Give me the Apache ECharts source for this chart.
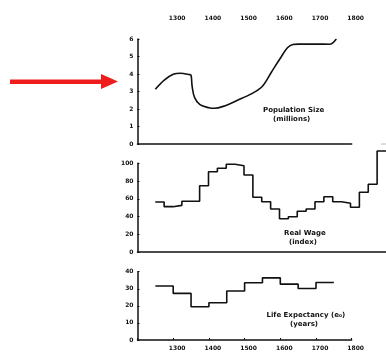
<!DOCTYPE html>
<html>
<head>
<meta charset="utf-8">
<script src="https://cdn.jsdelivr.net/npm/echarts@6/dist/echarts.min.js"></script>
<style>html,body{margin:0;padding:0;background:#fff;}#c{width:386px;height:358px;}</style>
</head>
<body>
<div id="c"></div>
<script>
// Population size (millions)
var popYears = [1250, 1275, 1300, 1320, 1345, 1350, 1353, 1360, 1375, 1400, 1415, 1440, 1480, 1520, 1550, 1575, 1600, 1620, 1635, 1650, 1700, 1738, 1757];
var popValues = [3.13, 3.65, 3.98, 4.04, 3.97, 3.93, 3.3, 2.65, 2.25, 2.07, 2.04, 2.15, 2.5, 2.88, 3.3, 4.1, 4.9, 5.5, 5.68, 5.71, 5.71, 5.7, 6.0];
// Real wage (index), 25-year periods by start year
var wageYears = [1250, 1275, 1300, 1325, 1350, 1375, 1400, 1425, 1450, 1475, 1500, 1525, 1550, 1575, 1600, 1625, 1650, 1675, 1700, 1725, 1750, 1775, 1800, 1825, 1850, 1875, 1900];
var wageValues = [56.4, 51.1, 52.6, 57.2, 57.2, 74.7, 90.5, 94.4, 98.9, 97.3, 86.8, 61.7, 56.7, 48.5, 37.5, 39.8, 45.9, 48.5, 56.7, 62.3, 56.7, 54.9, 50.4, 67.3, 76.3, 113.9, 113.9];
// Life expectancy (years), 50-year periods by start year
var lifeYears = [1250, 1300, 1350, 1400, 1450, 1500, 1550, 1600, 1650, 1700, 1750];
var lifeValues = [31.6, 27.3, 19.5, 21.8, 28.7, 33.5, 36.4, 32.7, 30.2, 33.7, 33.7];
// Axis tick labels
var yearTicks = ['1300', '1400', '1500', '1600', '1700', '1800'];
var popTicks = [0, 1, 2, 3, 4, 5, 6];
var wageTicks = [0, 20, 40, 60, 80, 100];
var lifeTicks = [0, 10, 20, 30, 40];

function pairs(xs, ys) { return xs.map(function (x, i) { return [x, ys[i]]; }); }

var FONT = 'DejaVu Sans';
var lblStyle = { fontFamily: FONT, fontSize: 6, fontWeight: 'bold', color: '#111' };
var axLine = { show: true, lineStyle: { color: '#111', width: 1.5 } };

function yAx(grid, max, interval) {
  return {
    type: 'value', gridIndex: grid, min: 0, max: max, interval: interval,
    axisLine: axLine,
    axisTick: { show: true, inside: true, length: 2, lineStyle: { color: '#111', width: 1 } },
    axisLabel: Object.assign({ margin: 4 }, lblStyle),
    splitLine: { show: false }
  };
}
function xAx(grid, max, opts) {
  return Object.assign({
    type: 'value', gridIndex: grid, min: 1200, max: max, interval: 100,
    axisLine: Object.assign({ onZero: false }, axLine),
    axisTick: { show: false },
    axisLabel: { show: false },
    splitLine: { show: false }
  }, opts || {});
}
var yearLabelOpt = Object.assign({
  show: true, margin: 6, padding: [0, 0, 0, 8],
  formatter: function (v) { return yearTicks.indexOf(String(v)) >= 0 ? String(v) : ''; }
}, lblStyle);

var chart = echarts.init(document.getElementById('c'), null, { renderer: 'canvas' });
chart.setOption({
  animation: false,
  backgroundColor: '#fff',
  grid: [
    { left: 137.5, top: 39, width: 214.2, height: 105 },
    { left: 137.5, top: 163.3, width: 249.9, height: 88.7 },
    { left: 137.5, top: 271.7, width: 214.2, height: 68.3 }
  ],
  xAxis: [
    xAx(0, 1800),
    xAx(0, 1800, { position: 'top', axisLine: { show: false },
      axisLabel: Object.assign({}, yearLabelOpt, { margin: 18 }) }),
    xAx(1, 1900),
    xAx(2, 1800, { axisTick: { show: true, inside: true, length: 2, lineStyle: { color: '#111' } },
      axisLabel: Object.assign({}, yearLabelOpt, { margin: 5 }) })
  ],
  yAxis: [ yAx(0, 6, 1), yAx(1, 100, 20), yAx(2, 40, 10) ],
  series: [
    { type: 'line', xAxisIndex: 0, yAxisIndex: 0, data: pairs(popYears, popValues),
      smooth: 0.35, symbol: 'none', lineStyle: { color: '#111', width: 1.6 } },
    { type: 'line', xAxisIndex: 2, yAxisIndex: 1, data: pairs(wageYears, wageValues),
      step: 'end', clip: false, symbol: 'none', lineStyle: { color: '#111', width: 1.6 } },
    { type: 'line', xAxisIndex: 3, yAxisIndex: 2, data: pairs(lifeYears, lifeValues),
      step: 'end', symbol: 'none', lineStyle: { color: '#111', width: 1.6 } }
  ],
  graphic: [
    { type: 'text', left: 263, top: 107, style: { text: 'Population Size', font: 'bold 7px "DejaVu Sans"', fill: '#111' } },
    { type: 'text', left: 273, top: 115.5, style: { text: '(millions)', font: 'bold 7px "DejaVu Sans"', fill: '#111' } },
    { type: 'text', left: 284, top: 229.5, style: { text: 'Real Wage', font: 'bold 7px "DejaVu Sans"', fill: '#111' } },
    { type: 'text', left: 289, top: 238.5, style: { text: '(index)', font: 'bold 7px "DejaVu Sans"', fill: '#111' } },
    { type: 'text', left: 266.5, top: 311.5, style: { text: 'Life Expectancy (e\u2080)', font: 'bold 7px "DejaVu Sans"', fill: '#111' } },
    { type: 'text', left: 290, top: 321, style: { text: '(years)', font: 'bold 7px "DejaVu Sans"', fill: '#111' } },
    { type: 'polygon', shape: { points: [[10, 79.5], [101, 79.5], [101, 74], [118, 81.5], [101, 89], [101, 84], [10, 84]] },
      style: { fill: '#ee1c1c' } },
    { type: 'line', shape: { x1: 381, y1: 144, x2: 386, y2: 144 }, style: { stroke: '#bbb', lineWidth: 1 } }
  ]
});
</script>
</body>
</html>
